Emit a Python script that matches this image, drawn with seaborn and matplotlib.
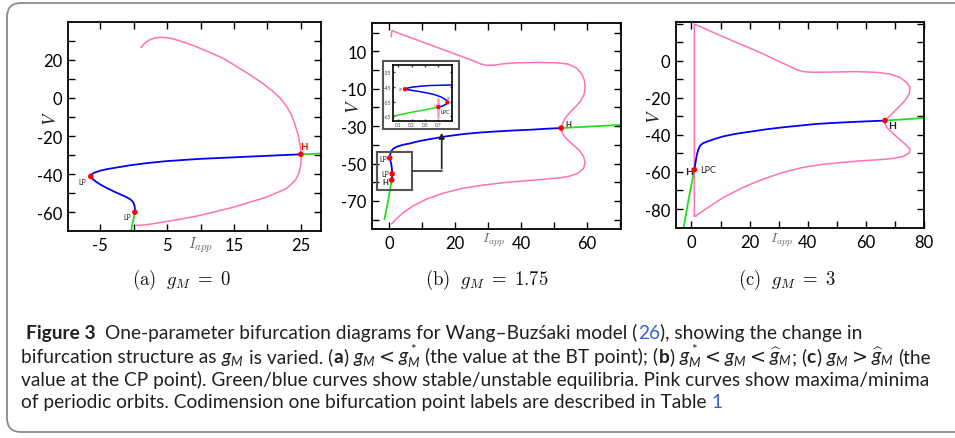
import matplotlib
matplotlib.use('Agg')
import matplotlib.pyplot as plt
import seaborn as sns
from matplotlib.patches import FancyBboxPatch, Rectangle, FancyArrowPatch
from matplotlib.lines import Line2D
from matplotlib.transforms import IdentityTransform

W, H = 955, 439

# ---------------- (a) g_M = 0 ----------------
a_stable_lo_x = [-0.4, -0.1, 0.2]
a_stable_lo_v = [-70.0, -65.0, -60.0]
a_unstable_x = [0.2, 0.2, 0.1, -0.1, -0.5, -1.1, -2.0, -3.0, -4.0, -4.9, -5.6, -6.1, -6.4, -6.3, -5.9,
                -5.0, -4.0, -2.5, -0.6, 2.0, 4.85, 7.3, 9.85, 12.3, 14.85, 17.3, 19.85, 22.4, 25.0]
a_unstable_v = [-60.0, -58.0, -56.0, -54.5, -53.2, -52.0, -50.6, -49.0, -47.3, -45.6, -44.0, -42.6, -41.2,
                -40.2, -39.3, -38.2, -37.4, -36.5, -35.4, -34.2, -33.2, -32.6, -32.0, -31.6, -31.2, -30.8,
                -30.4, -30.0, -29.6]
a_stable_hi_x = [25.0, 27.8]
a_stable_hi_v = [-29.6, -29.2]
a_orbit_x = [1.1, 1.6, 2.35, 3.2, 4.1, 5.0, 5.85, 7.5, 9.35, 11.3, 13.3, 15.3, 17.35, 19.2, 20.8, 22.0, 22.85,
             23.6, 24.1, 24.6, 24.85, 25.0, 25.05, 24.95, 24.7, 24.2, 23.5, 22.85, 21.5, 19.85, 17.3, 14.85,
             12.3, 9.85, 7.3, 4.85, 3.3, 1.85, 0.35]
a_orbit_v = [26.4, 28.5, 30.4, 31.5, 31.8, 31.6, 31.0, 29.3, 26.9, 24.0, 20.9, 16.7, 12.2, 7.8, 3.5, -0.5, -4.4,
             -9.0, -13.9, -19.5, -24.3, -28.5, -32.0, -35.5, -39.5, -43.0, -45.5, -47.5, -49.6, -52.1, -54.8,
             -57.4, -59.6, -61.7, -63.4, -64.9, -65.8, -66.6, -66.9]
a_pts_x = [-6.4, 0.2, 25.0]
a_pts_v = [-41.2, -60.0, -29.6]
a_xticks = [-5, 5, 15, 25]
a_xticks_minor = [0, 10, 20]
a_yticks = [-60, -40, -20, 0, 20]
a_yticks_minor = [-50, -30, -10, 10, 30]

# ---------------- (b) g_M = 1.75 ----------------
b_stable_lo_x = [-1.5, -0.4, 0.3, 0.7]
b_stable_lo_v = [-79.8, -70.0, -63.0, -58.8]
b_unstable_x = [0.7, 0.8, 0.84, 0.75, 0.5, 0.1, 0.2, 0.5, 1.2, 2.2, 4.0, 6.3, 9.0, 12.4, 17.0, 22.5, 27.5,
                32.6, 37.7, 42.8, 47.5, 52.2]
b_unstable_v = [-58.8, -57.5, -55.5, -52.5, -49.8, -47.0, -45.5, -43.5, -42.0, -41.0, -40.0, -39.2, -38.0,
                -36.9, -35.5, -34.2, -33.4, -32.8, -32.3, -31.9, -31.4, -31.0]
b_stable_hi_x = [52.2, 70.4]
b_stable_hi_v = [-31.0, -29.3]
b_orbit_x = [0.5, 0.8, 7.3, 13.4, 19.5, 25.5, 27.6, 29.6, 32.1, 34.7, 38.7, 44.8, 50.9, 54.4, 56.9, 58.5, 59.3,
             59.5, 59.2, 58.2, 56.7, 54.9, 53.4, 52.6, 52.3, 52.7, 54.1, 55.9, 57.8, 59.0, 59.5, 59.0, 57.4,
             54.9, 51.9, 46.8, 40.7, 34.7, 28.6, 22.5, 16.4, 11.3, 7.3, 4.3, 2.0, 0.7]
b_orbit_v = [17.8, 21.1, 16.8, 12.9, 8.9, 5.0, 3.4, 2.5, 2.7, 3.4, 3.9, 4.1, 3.9, 3.2, 1.1, -2.1, -5.7, -9.3,
             -12.8, -16.4, -19.4, -22.6, -25.8, -28.8, -31.5, -34.2, -37.2, -40.1, -43.1, -46.1, -49.4, -52.6,
             -55.1, -56.7, -57.6, -58.4, -59.3, -60.2, -61.5, -63.1, -65.8, -69.0, -72.5, -76.1, -79.7, -82.3]
b_pts_x = [0.1, 0.84, 0.7, 52.2]
b_pts_v = [-47.0, -55.5, -58.8, -31.0]
b_xticks = [0, 20, 40, 60]
b_xticks_minor = [10, 30, 50, 70]
b_yticks = [-70, -50, -30, -10, 10]
b_yticks_minor = [-80, -60, -40, -20, 0, 20]

# inset of (b)
i_stable_x = [0.015, 0.3, 0.5, 0.7]
i_stable_v = [-65.0, -62.2, -60.6, -58.7]
i_unstable_x = [0.7, 0.76, 0.81, 0.835, 0.82, 0.75, 0.65, 0.525, 0.4, 0.275, 0.2, 0.24, 0.325, 0.45, 0.575,
                0.75, 0.9]
i_unstable_v = [-58.7, -58.0, -57.0, -55.5, -54.0, -52.0, -50.3, -49.0, -48.0, -47.1, -46.5, -45.7, -45.0,
                -44.4, -44.0, -43.8, -43.6]
i_orbit_x = [0.69, 0.69]
i_orbit_v = [-53.0, -65.5]
i_pts_x = [0.2, 0.835, 0.7]
i_pts_v = [-46.5, -55.5, -58.7]
i_xticks = [0.1, 0.3, 0.5, 0.7]
i_yticks = [-65, -55, -45, -35]

# ---------------- (c) g_M = 3 ----------------
c_stable_lo_x = [-2.7, -1.0, 1.0]
c_stable_lo_v = [-90.4, -75.0, -58.8]
c_unstable_x = [1.0, 1.4, 1.8, 2.3, 3.0, 4.0, 5.3, 8.0, 11.0, 15.0, 20.1, 25.8, 31.6, 37.3, 43.0, 48.7, 54.5,
                60.5, 66.5]
c_unstable_v = [-58.8, -55.0, -51.2, -48.2, -45.8, -44.5, -43.7, -42.2, -40.8, -39.5, -38.3, -37.0, -35.9,
                -35.0, -34.1, -33.6, -33.1, -32.7, -32.3]
c_stable_hi_x = [66.5, 80.0]
c_stable_hi_v = [-32.3, -30.9]
c_orbit_x = [1.0, 1.0, 1.26, 8.7, 16.7, 24.7, 32.7, 36.2, 38.4, 41.9, 48.7, 56.8, 63.6, 68.2, 71.6, 73.9, 75.1,
             74.8, 73.3, 71.1, 68.8, 67.0, 66.5, 67.0, 68.8, 71.1, 73.3, 75.1, 74.8, 72.8, 69.3, 64.8, 59.0,
             52.2, 45.3, 38.4, 31.6, 24.7, 17.8, 11.0, 5.8, 2.4, 1.5, 1.0]
c_orbit_v = [-83.9, 19.8, 19.6, 14.4, 9.0, 3.6, -2.3, -4.9, -5.9, -6.3, -6.1, -5.9, -6.3, -7.2, -9.0, -11.7,
             -14.4, -18.0, -21.6, -25.2, -28.8, -31.4, -33.6, -35.9, -38.6, -41.9, -44.9, -47.6, -49.8, -51.6,
             -52.7, -53.4, -53.9, -54.8, -55.9, -57.5, -60.2, -63.8, -68.3, -73.7, -79.1, -82.7, -83.9, -83.9]
c_pts_x = [1.0, 66.5]
c_pts_v = [-58.8, -32.3]
c_xticks = [0, 20, 40, 60, 80]
c_xticks_minor = [10, 30, 50, 70]
c_yticks = [-80, -60, -40, -20, 0]
c_yticks_minor = [-70, -50, -30, -10, 10, 20]

sub_captions = [r'$\mathrm{(a)}\ \ g_M \;=\; 0$', r'$\mathrm{(b)}\ \ g_M \;=\; 1.75$',
                r'$\mathrm{(c)}\ \ g_M \;=\; 3$']

caption_lines = [
    [('Figure 3', 'b'), ('  One-parameter bifurcation diagrams for Wang–Buzśaki model (', 'n'), ('26', 'l'),
     ('), showing the change in', 'n')],
    [('bifurcation structure as ', 'n'), ('$g_M$', 'm'), (' is varied. (', 'n'), ('a', 'b'), (') ', 'n'),
     ('$g_M$', 'm'), (' < ', 'r'), ('$g_M^*$', 'm'), (' (the value at the BT point); (', 'n'), ('b', 'b'),
     (') ', 'n'), ('$g_M^*$', 'm'), (' < ', 'r'), ('$g_M$', 'm'), (' < ', 'r'), (r'$\widehat{g}_M$', 'm'),
     ('; (', 'n'), ('c', 'b'), (') ', 'n'), ('$g_M$', 'm'), (' > ', 'r'), (r'$\widehat{g}_M$', 'm'),
     (' (the', 'n')],
    [('value at the CP point). Green/blue curves show stable/unstable equilibria. Pink curves show maxima/minima', 'n')],
    [('of periodic orbits. Codimension one bifurcation point labels are described in Table ', 'n'), ('1', 'l')],
]

PINK = '#ff72b6'
BLUE = '#0000ff'
GREEN = '#22dd22'
RED = '#ff0000'
TXT = '#231f20'

sns.set_style('ticks')
plt.rcParams['font.family'] = ['Lato', 'DejaVu Sans']
plt.rcParams['axes.unicode_minus'] = False
# caption math uses the caption's own face
plt.rcParams['mathtext.rm'] = 'Lato'
plt.rcParams['mathtext.it'] = 'Lato:italic'
plt.rcParams['mathtext.bf'] = 'Lato:bold'
plt.rcParams['mathtext.sf'] = 'Lato'


def px_rect(x0, y0, x1, y1):
    return [x0 / W, 1 - y1 / H, (x1 - x0) / W, (y1 - y0) / H]


def curve(ax, xs, ys, color, lw=1.3):
    sns.lineplot(x=xs, y=ys, sort=False, estimator=None, color=color, lw=lw, ax=ax, legend=False)


def points(ax, xs, ys, s=16):
    sns.scatterplot(x=xs, y=ys, color=RED, s=s, marker='o', edgecolor='none', zorder=5, ax=ax, legend=False)


def style_axes(ax, xlim, ylim, xt, xtm, yt, ytm, size=12, length=5, lw=1.3, pad=4):
    ax.set_xlim(xlim)
    ax.set_ylim(ylim)
    ax.set_xticks(xt)
    ax.set_xticks(xtm, minor=True)
    ax.set_yticks(yt)
    ax.set_yticks(ytm, minor=True)
    ax.set_xticklabels([str(t) for t in xt])
    ax.set_yticklabels([str(t) for t in yt])
    ax.tick_params(which='both', direction='in', top=True, right=True, length=length,
                   width=1.0, colors='black', labelsize=size, pad=pad)
    for s in ax.spines.values():
        s.set_linewidth(lw)
        s.set_color('black')
    ax.set_xlabel('')
    ax.set_ylabel('')


def axis_labels(ax, xl, yl, xl_size=10):
    ax.text(xl[0], xl[1], r'$I_{app}$', transform=ax.transAxes, ha='center', va='center',
            fontsize=xl_size, color='#666666', math_fontfamily='cm')
    ax.text(yl[0], yl[1], r'$V$', transform=ax.transAxes, ha='center', va='center',
            fontsize=13.5, rotation=90, color=TXT, math_fontfamily='stix')


fig = plt.figure(figsize=(W / 100, H / 100), dpi=100)

# ---- panel (a)
ax_a = fig.add_axes(px_rect(68, 22.7, 321, 232.3))
curve(ax_a, a_orbit_x, a_orbit_v, PINK, 1.1)
curve(ax_a, a_unstable_x, a_unstable_v, BLUE)
curve(ax_a, a_stable_lo_x, a_stable_lo_v, GREEN)
curve(ax_a, a_stable_hi_x, a_stable_hi_v, GREEN)
points(ax_a, a_pts_x, a_pts_v)
style_axes(ax_a, (-9.8, 28), (-70, 40), a_xticks, a_xticks_minor, a_yticks, a_yticks_minor)
axis_labels(ax_a, (0.524, -0.062), (-0.071, 0.545), 11)
ax_a.text(25.5, -25.7, 'H', color=RED, fontsize=7, fontweight='bold', ha='center', va='center')
ax_a.text(-7.6, -44.0, 'LP', color=TXT, fontsize=5, ha='center', va='center')
ax_a.text(-0.9, -62.3, 'LP', color=TXT, fontsize=5, ha='center', va='center')

# ---- panel (b)
ax_b = fig.add_axes(px_rect(372.3, 24, 621, 230))
curve(ax_b, b_orbit_x, b_orbit_v, PINK, 1.1)
curve(ax_b, b_unstable_x, b_unstable_v, BLUE)
curve(ax_b, b_stable_lo_x, b_stable_lo_v, GREEN)
curve(ax_b, b_stable_hi_x, b_stable_hi_v, GREEN)
points(ax_b, b_pts_x, b_pts_v)
style_axes(ax_b, (-5.2, 70.4), (-85, 25.2), b_xticks, b_xticks_minor, b_yticks, b_yticks_minor)
axis_labels(ax_b, (0.487, -0.05), (-0.076, 0.6))
ax_b.text(54.3, -28.5, 'H', color=TXT, fontsize=5.5, fontweight='bold', ha='center', va='center')
ax_b.text(-2.0, -47.2, 'LP', color=TXT, fontsize=5, ha='center', va='center')
ax_b.text(-1.3, -55.2, 'LP', color=TXT, fontsize=5, ha='center', va='center')
ax_b.text(-1.2, -59.8, 'H', color=TXT, fontsize=5.5, fontweight='bold', ha='center', va='center')

# inset frame, zoom box and connector
fig.add_artist(Rectangle((383.3 / W, 1 - 130 / H), 76 / W, 68.3 / H, transform=fig.transFigure,
                         facecolor='white', edgecolor='#555555', lw=1.5, zorder=3))
fig.add_artist(Rectangle((376.7 / W, 1 - 191 / H), 35.3 / W, 38.3 / H, transform=fig.transFigure,
                         fill=False, edgecolor='#555555', lw=1.5, zorder=3))
fig.add_artist(Line2D([412 / W, 441.7 / W], [1 - 172.3 / H, 1 - 172.3 / H], transform=fig.transFigure,
                      color='#333333', lw=1.2, zorder=3))
fig.add_artist(FancyArrowPatch((441.7 / W, 1 - 172.3 / H), (441.7 / W, 1 - 131 / H), transform=fig.transFigure,
                               arrowstyle='-|>', mutation_scale=8, color='#222222', lw=1.2, zorder=3))

ax_i = fig.add_axes(px_rect(392.7, 66, 451.7, 121.7), zorder=4)
ax_i.set_facecolor('white')
curve(ax_i, i_orbit_x, i_orbit_v, '#ff9fcc', 2.0)
curve(ax_i, i_unstable_x, i_unstable_v, BLUE, 1.1)
curve(ax_i, i_stable_x, i_stable_v, GREEN, 1.1)
points(ax_i, i_pts_x, i_pts_v, 10)
style_axes(ax_i, (0.015, 0.9), (-68, -30), i_xticks, [], i_yticks, [], size=3.5, length=1.5, lw=1.2, pad=1)
ax_i.tick_params(colors='#444444')
ax_i.text(0.8, -61.4, 'LPC', color=TXT, fontsize=4, ha='center', va='center')
ax_i.text(0.135, -46.3, 'LP', color='#555555', fontsize=2.5, ha='center', va='center')
ax_i.text(0.855, -52.4, 'LP', color='#555555', fontsize=2.5, ha='center', va='center')
ax_i.text(0.65, -57.6, 'H', color='#555555', fontsize=2.5, ha='center', va='center')

# ---- panel (c)
ax_c = fig.add_axes(px_rect(676, 23.3, 924.3, 229.3))
curve(ax_c, c_orbit_x, c_orbit_v, PINK, 1.1)
curve(ax_c, c_unstable_x, c_unstable_v, BLUE)
curve(ax_c, c_stable_lo_x, c_stable_lo_v, GREEN)
curve(ax_c, c_stable_hi_x, c_stable_hi_v, GREEN)
points(ax_c, c_pts_x, c_pts_v)
style_axes(ax_c, (-5.3, 80), (-90.4, 20.7), c_xticks, c_xticks_minor, c_yticks, c_yticks_minor)
axis_labels(ax_c, (0.426, -0.052), (-0.085, 0.545))
ax_c.text(-0.7, -59.8, 'H', color=TXT, fontsize=7.5, fontweight='bold', ha='center', va='center')
ax_c.text(5.6, -58.9, 'LPC', color=TXT, fontsize=6.5, ha='center', va='center')
ax_c.text(69.1, -35.0, 'H', color=TXT, fontsize=7.5, fontweight='bold', ha='center', va='center')

# ---- sub captions
for cx, s in zip([181.7, 487, 787], sub_captions):
    fig.text(cx / W, 1 - 280 / H, s, ha='center', va='center', fontsize=13.5, color='#111111',
             math_fontfamily='cm')

# ---- caption box and text
fig.add_artist(FancyBboxPatch((7, H - 433), 1100, 429, boxstyle='round,pad=0,rounding_size=14',
                              transform=IdentityTransform(), fill=False, edgecolor='#8a8a8a', lw=1.3))

CAPTION_STYLES = {
    'n': dict(color=TXT),
    'b': dict(color=TXT, fontweight='bold'),
    'l': dict(color='#3a62d0'),
    'm': dict(color=TXT, math_fontfamily='custom'),
    'r': dict(color=TXT, family='DejaVu Sans'),
}

renderer = fig.canvas.get_renderer()


def text_width(s, size, **kw):
    t = fig.text(0, 0, s, fontsize=size, **kw)
    w = t.get_window_extent(renderer).width
    t.remove()
    return w


def caption_line(x, y, parts, size, draw=True):
    x_start = x
    space = text_width('a a', size) - text_width('aa', size)
    for s, style in parts:
        kw = CAPTION_STYLES[style]
        lead = len(s) - len(s.lstrip(' '))
        trail = len(s) - len(s.rstrip(' '))
        gap = space * (0.6 if style == 'r' else 1.0)
        x += lead * gap
        core = s.strip(' ')
        if core:
            t = fig.text(x / W, 1 - y / H, core, fontsize=size, ha='left', va='baseline', **kw)
            x += t.get_window_extent(renderer).width
            if not draw:
                t.remove()
        x += trail * gap
    return x - x_start


# fit the caption size so that lines 2 and 3 stay inside the box
size3 = 12 * 904 / caption_line(0, 0, caption_lines[2], 12, draw=False)
size2 = 12 * 922 / caption_line(0, 0, caption_lines[1], 12, draw=False)
cap_size = min(size2, size3)
for (x0, y0), parts in zip([(26, 339.3), (21, 362.7), (21, 385.7), (21, 408.3)], caption_lines):
    caption_line(x0, y0, parts, cap_size)

fig.savefig('out.png', dpi=100)
